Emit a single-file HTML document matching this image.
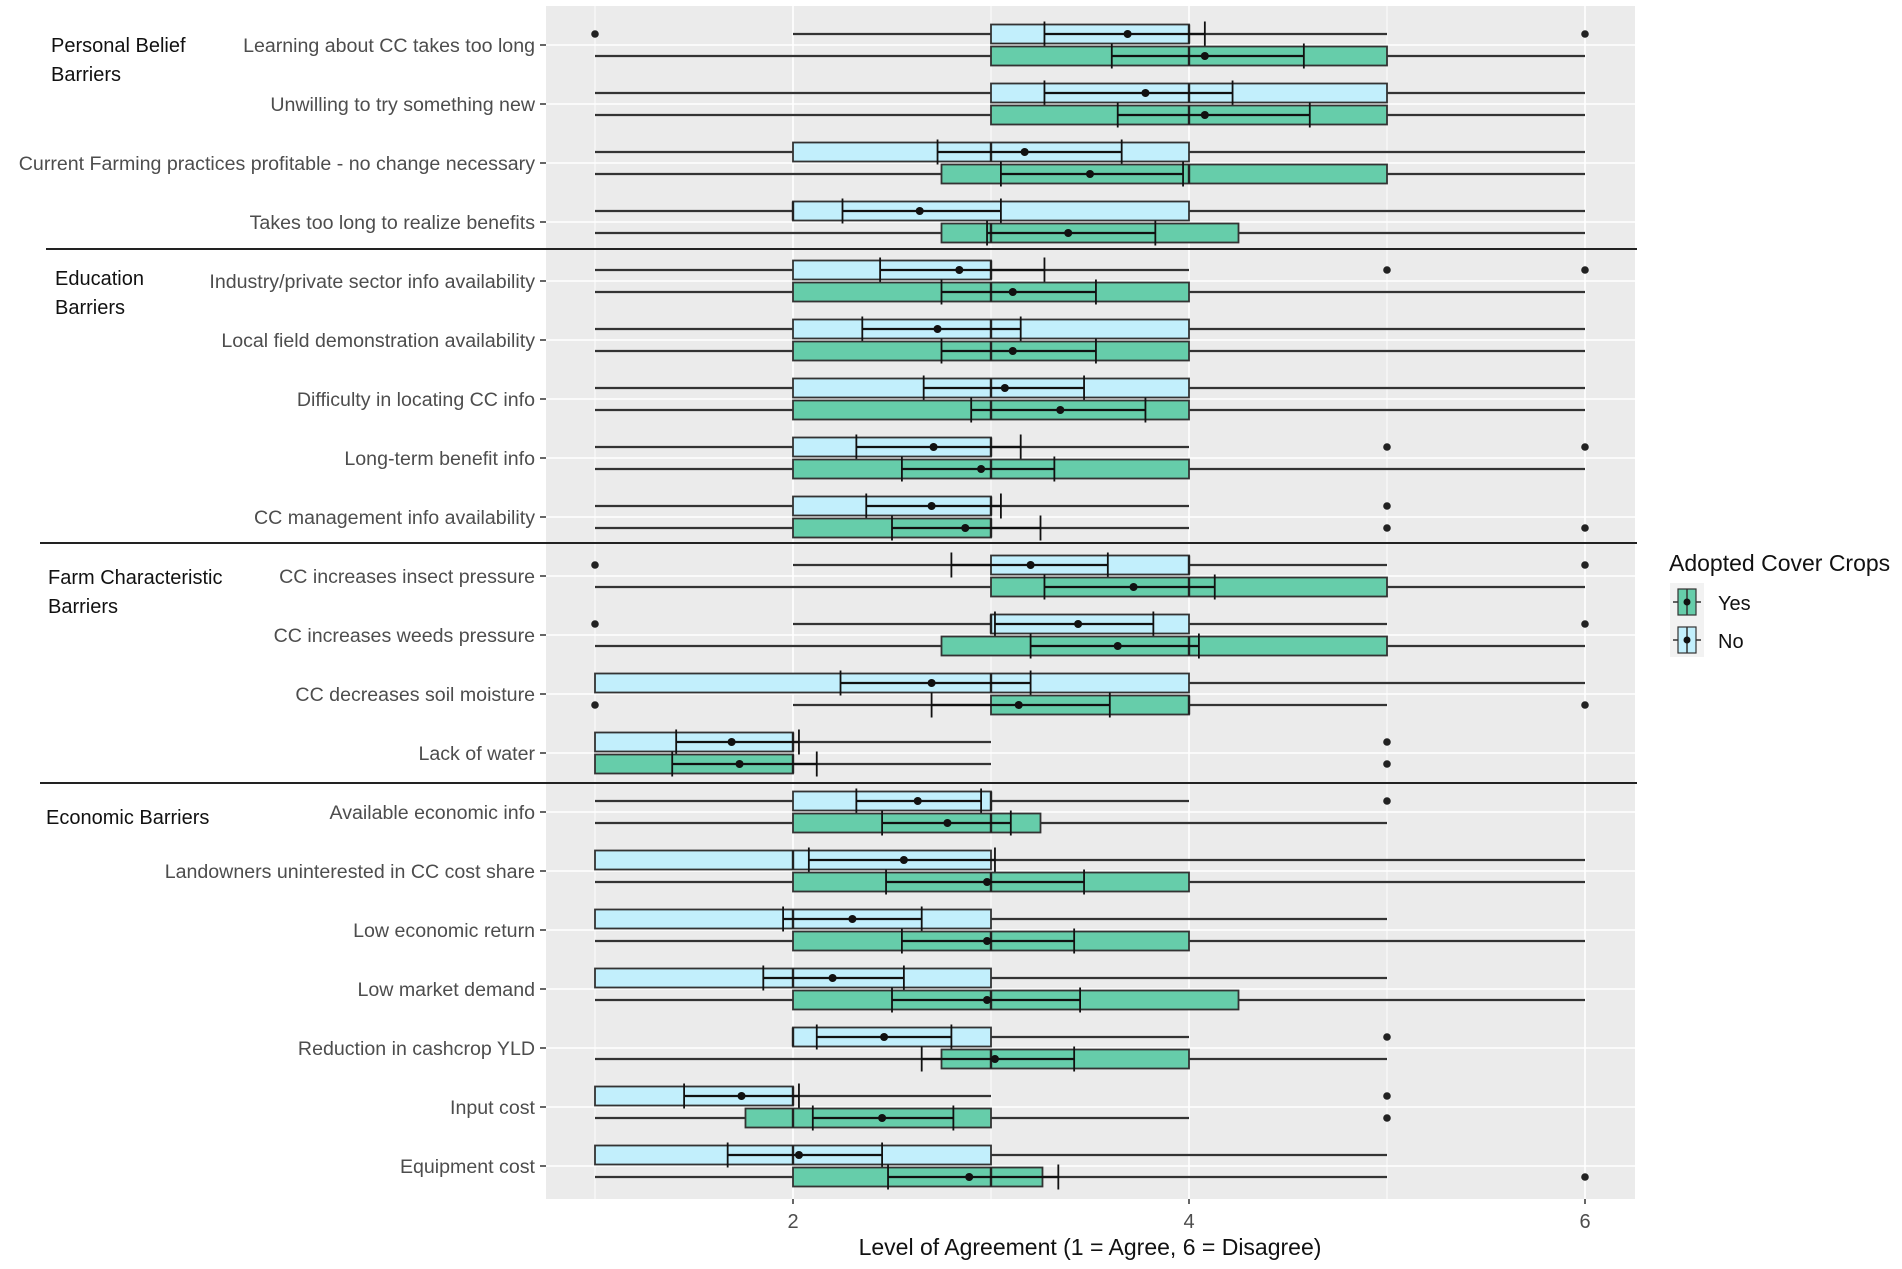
<!DOCTYPE html>
<html><head><meta charset="utf-8"><style>
html,body{margin:0;padding:0;background:#fff;}
svg{display:block;font-family:"Liberation Sans",sans-serif;}
</style></head><body>
<svg id="chart" width="1902" height="1269" viewBox="0 0 1902 1269" xmlns="http://www.w3.org/2000/svg">
<rect x="546" y="6" width="1089" height="1193" fill="#ebebeb"/>
<g id="grid"></g><g id="marks"></g><g id="labels"></g>
<g font-size="20" fill="#111">
<text x="51" y="52">Personal Belief</text>
<text x="51" y="81">Barriers</text>
<text x="55" y="285">Education</text>
<text x="55" y="314">Barriers</text>
<text x="48" y="584">Farm Characteristic</text>
<text x="48" y="613">Barriers</text>
<text x="46" y="824">Economic Barriers</text>
</g>
<g stroke="#222" stroke-width="2">
<line x1="46" x2="1637" y1="249" y2="249"/>
<line x1="40" x2="1637" y1="543" y2="543"/>
<line x1="40" x2="1637" y1="783" y2="783"/>
</g>
<text x="1090" y="1255" text-anchor="middle" font-size="23" fill="#111">Level of Agreement (1 = Agree, 6 = Disagree)</text>
<g>
<text x="1669" y="571" font-size="23" fill="#111">Adopted Cover Crops</text>
<rect x="1670" y="583" width="34" height="74" fill="#f2f2f2"/>
<g>
<line x1="1673" x2="1701" y1="602" y2="602" stroke="#333" stroke-width="1.5"/>
<rect x="1678" y="589" width="18" height="26" fill="#66cdaa" stroke="#333" stroke-width="1.2"/>
<line x1="1687" x2="1687" y1="589" y2="615" stroke="#333" stroke-width="1.5"/>
<circle cx="1687" cy="602" r="3.5" fill="#111"/>
<text x="1718" y="610" font-size="20" fill="#111">Yes</text>
</g>
<g>
<line x1="1673" x2="1701" y1="640" y2="640" stroke="#333" stroke-width="1.5"/>
<rect x="1678" y="627" width="18" height="26" fill="#c2effc" stroke="#333" stroke-width="1.2"/>
<line x1="1687" x2="1687" y1="627" y2="653" stroke="#333" stroke-width="1.5"/>
<circle cx="1687" cy="640" r="3.5" fill="#111"/>
<text x="1718" y="648" font-size="20" fill="#111">No</text>
</g>
</g>
</svg>
<script>
const categories = ["Learning about CC takes too long","Unwilling to try something new","Current Farming practices profitable - no change necessary","Takes too long to realize benefits","Industry/private sector info availability","Local field demonstration availability","Difficulty in locating CC info","Long-term benefit info","CC management info availability","CC increases insect pressure","CC increases weeds pressure","CC decreases soil moisture","Lack of water","Available economic info","Landowners uninterested in CC cost share","Low economic return","Low market demand","Reduction in cashcrop YLD","Input cost","Equipment cost"];
const xTicks = [2,4,6];
const xGrid = [1,2,3,4,5,6];
// No group: [whiskerMin, q1, median, q3, whiskerMax]
const noBox = [[2,3,4,4,5],[1,3,4,5,6],[1,2,3,4,6],[1,2,2,4,6],[1,2,3,3,4],[1,2,3,4,6],[1,2,3,4,6],[1,2,3,3,4],[1,2,3,3,4],[2,3,4,4,5],[2,3,3,4,5],[1,1,3,4,6],[1,1,2,2,3],[1,2,3,3,4],[1,1,2,3,6],[1,1,2,3,5],[1,1,2,3,5],[2,2,2,3,4],[1,1,2,2,3],[1,1,2,3,5]];
const noMean = [3.69,3.78,3.17,2.64,2.84,2.73,3.07,2.71,2.70,3.20,3.44,2.70,1.69,2.63,2.56,2.30,2.20,2.46,1.74,2.03];
const noCI = [[3.27,4.08],[3.27,4.22],[2.73,3.66],[2.25,3.05],[2.44,3.27],[2.35,3.15],[2.66,3.47],[2.32,3.15],[2.37,3.05],[2.80,3.59],[3.02,3.82],[2.24,3.20],[1.41,2.03],[2.32,2.95],[2.08,3.02],[1.95,2.65],[1.85,2.56],[2.12,2.80],[1.45,2.03],[1.67,2.45]];
const noOut = [[1,6],[],[],[],[5,6],[],[],[5,6],[5],[1,6],[1,6],[],[5],[5],[],[],[],[5],[5],[]];
// Yes group
const yesBox = [[1,3,4,5,6],[1,3,4,5,6],[1,2.75,4,5,6],[1,2.75,3,4.25,6],[1,2,3,4,6],[1,2,3,4,6],[1,2,3,4,6],[1,2,3,4,6],[1,2,3,3,4],[1,3,4,5,6],[1,2.75,4,5,6],[2,3,4,4,5],[1,1,2,2,3],[1,2,3,3.25,5],[1,2,3,4,6],[1,2,3,4,6],[1,2,3,4.25,6],[1,2.75,3,4,5],[1,1.76,2,3,4],[1,2,3,3.26,5]];
const yesMean = [4.08,4.08,3.50,3.39,3.11,3.11,3.35,2.95,2.87,3.72,3.64,3.14,1.73,2.78,2.98,2.98,2.98,3.02,2.45,2.89];
const yesCI = [[3.61,4.58],[3.64,4.61],[3.05,3.97],[2.98,3.83],[2.75,3.53],[2.75,3.53],[2.90,3.78],[2.55,3.32],[2.50,3.25],[3.27,4.13],[3.20,4.05],[2.70,3.60],[1.39,2.12],[2.45,3.10],[2.47,3.47],[2.55,3.42],[2.50,3.45],[2.65,3.42],[2.10,2.81],[2.48,3.34]];
const yesOut = [[],[],[],[],[],[],[],[],[5,6],[],[],[1,6],[5],[],[],[],[],[],[5],[6]];

const NS = "http://www.w3.org/2000/svg";
function xs(v){ return 595 + (v-1)*198; }
function ys(i){ return 45 + i*59.0; }
function mk(tag, attrs, parent){ const e=document.createElementNS(NS,tag); for(const k in attrs) e.setAttribute(k,attrs[k]); parent.appendChild(e); return e; }
const grid=document.getElementById('grid'), marks=document.getElementById('marks'), labels=document.getElementById('labels');
xGrid.forEach(v=>{
  const l=mk('line',{x1:xs(v),x2:xs(v),y1:6,y2:1199,stroke:'#fff','stroke-width':(v%2===0?1.6:0.9)},grid);
  
  
});
categories.forEach((c,i)=>{
  const l=mk('line',{x1:546,x2:1635,y1:ys(i),y2:ys(i),stroke:'#fff','stroke-width':1.6},grid);
  
  
  const t=mk('text',{x:535,y:ys(i)+7,'text-anchor':'end','font-size':19.6,fill:'#4d4d4d'},labels);
  t.textContent=c;
  
  
  const tk=mk('line',{x1:540,x2:546,y1:ys(i),y2:ys(i),stroke:'#333','stroke-width':1.5},labels);
  
  
});
xTicks.forEach(v=>{
  const t=mk('text',{x:xs(v),y:1228,'text-anchor':'middle','font-size':20,fill:'#4d4d4d'},labels);
  t.textContent=v;
  
  
  const tk=mk('line',{x1:xs(v),x2:xs(v),y1:1199,y2:1204,stroke:'#333','stroke-width':1.5},labels);
  
  
});
function drawGroup(i, box, mean, ci, outs, cy, fill, name){
  const g=mk('g',{},marks);
  
  
  mk('line',{x1:xs(box[0]),x2:xs(box[4]),y1:cy,y2:cy,stroke:'#333','stroke-width':2.2},g);
  mk('rect',{x:xs(box[1]),y:cy-9.5,width:Math.max(xs(box[3])-xs(box[1]),1),height:19,fill:fill,stroke:'#333','stroke-width':1.8},g);
  mk('line',{x1:xs(box[2]),x2:xs(box[2]),y1:cy-9.5,y2:cy+9.5,stroke:'#222','stroke-width':2.4},g);
  mk('line',{x1:xs(ci[0]),x2:xs(ci[1]),y1:cy,y2:cy,stroke:'#111','stroke-width':2.2},g);
  mk('line',{x1:xs(ci[0]),x2:xs(ci[0]),y1:cy-12.5,y2:cy+12.5,stroke:'#111','stroke-width':1.8},g);
  mk('line',{x1:xs(ci[1]),x2:xs(ci[1]),y1:cy-12.5,y2:cy+12.5,stroke:'#111','stroke-width':1.8},g);
  mk('circle',{cx:xs(mean),cy:cy,r:4,fill:'#111'},g);
  outs.forEach(o=>{ mk('circle',{cx:xs(o),cy:cy,r:3.8,fill:'#222'},g); });
}
categories.forEach((c,i)=>{
  drawGroup(i, noBox[i], noMean[i], noCI[i], noOut[i], ys(i)-11, '#c2effc', 'box-no');
  drawGroup(i, yesBox[i], yesMean[i], yesCI[i], yesOut[i], ys(i)+11, '#66cdaa', 'box-yes');
});
</script>
</body></html>
